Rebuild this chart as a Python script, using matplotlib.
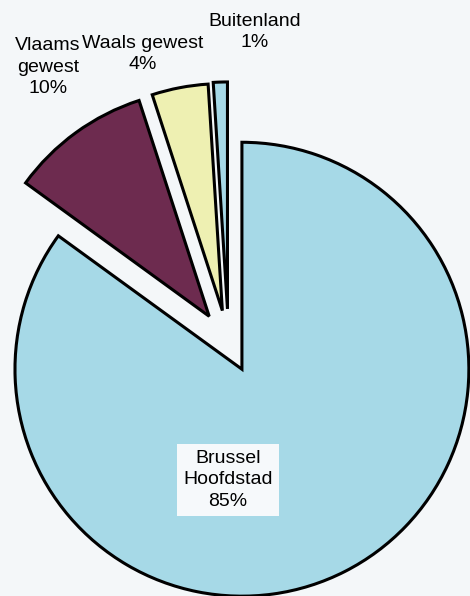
import matplotlib.pyplot as plt

# Data
labels = ["Brussel\nHoofdstad", "Vlaams\ngewest", "Waals gewest", "Buitenland"]
shares = [85, 10, 4, 1]
colors = ["#a6d9e7", "#6d2b4f", "#eef0b2", "#a6d9e7"]
explode = [0.13, 0.145, 0.145, 0.15]

plt.rcParams["font.family"] = ["Liberation Sans", "DejaVu Sans"]

fig = plt.figure(figsize=(4.70, 5.96), dpi=100)
fig.patch.set_facecolor("#f4f7f9")
ax = fig.add_axes([0, 0, 1, 1])
ax.set_facecolor("#f4f7f9")

ax.pie(shares, colors=colors, explode=explode, startangle=90,
       counterclock=False, radius=1.0,
       wedgeprops=dict(edgecolor="black", linewidth=2.2))

ax.set_xlim(-1.007, 1.064)
ax.set_ylim(-1.115, 1.511)
ax.set_aspect("equal")
ax.axis("off")

# labels (pixel positions converted to data units: centre 228.5,343; r=227)
def px(x, y):
    return (x - 228.5) / 227, (343 - y) / 227

fs = 14
ls = 1.35
ax.text(*px(48, 67), f"{labels[1]}\n{shares[1]}%", ha="center", va="center",
        fontsize=fs, linespacing=ls)
ax.text(*px(143, 54), f"{labels[2]}\n{shares[2]}%", ha="center", va="center",
        fontsize=fs, linespacing=ls)
ax.text(*px(255, 32), f"{labels[3]}\n{shares[3]}%", ha="center", va="center",
        fontsize=fs, linespacing=ls)
ax.text(*px(228, 480), f"{labels[0]}\n{shares[0]}%", ha="center", va="center",
        fontsize=fs, linespacing=ls,
        bbox=dict(boxstyle="square,pad=0.3", facecolor="#f6f9fb", edgecolor="none"))

fig.savefig("out.png", dpi=100, facecolor=fig.get_facecolor())
